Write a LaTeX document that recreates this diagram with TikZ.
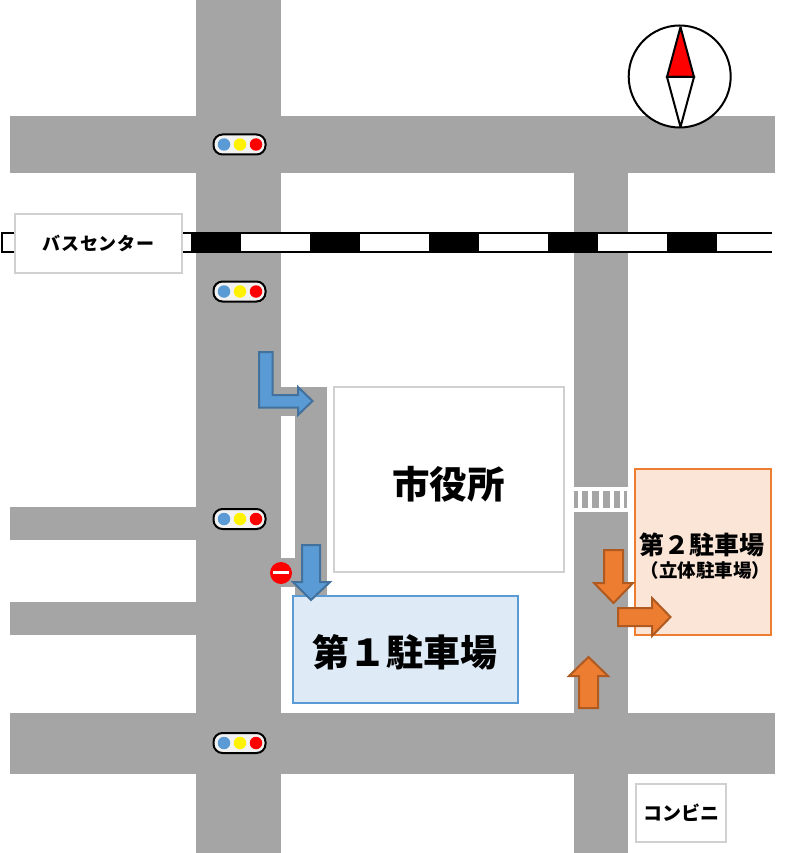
\documentclass[tikz,border=0pt]{standalone}
\usepackage{fontspec}
\setmainfont{Noto Sans CJK JP}
\tikzset{
  x=1pt,y=-1pt,
  road/.style={fill=roadgray,draw=none},
  plainbox/.style={draw=boxgray,line width=2pt,fill=white,minimum width=#1,inner sep=0pt},
  bluearrow/.style={fill=arrowblue,draw=arrowblueedge,line width=2pt,miter limit=10},
  orangearrow/.style={fill=arroworange,draw=arroworangeedge,line width=2pt,miter limit=10},
  signalbody/.style={rectangle,rounded corners=9pt,draw=black,line width=2pt,fill=signalbg,minimum width=52pt,minimum height=20pt,inner sep=0pt},
  lamp/.style={circle,minimum size=12.5pt,inner sep=0pt,fill=#1},
  label/.style={font=\bfseries,text=black,inner sep=0pt}
}
\definecolor{roadgray}{HTML}{A5A5A5}
\definecolor{boxgray}{HTML}{D0D0D0}
\definecolor{arrowblue}{HTML}{5B9BD5}
\definecolor{arrowblueedge}{HTML}{41719C}
\definecolor{arroworange}{HTML}{ED7D31}
\definecolor{arroworangeedge}{HTML}{AE5A21}
\definecolor{signalbg}{HTML}{F2F2F2}
\definecolor{pone}{HTML}{DEEBF7}
\definecolor{ptwo}{HTML}{FBE5D6}
\newcommand{\trafficlight}[2]{%
  \node[signalbody] (#1) at (239.5,#2) {};
  \node[lamp=arrowblue] (#1b) at (224,#2) {};
  \node[lamp=yellow] (#1y) at (240,#2) {};
  \node[lamp=red] (#1r) at (256,#2) {};
}
\begin{document}
\begin{tikzpicture}
\useasboundingbox (0,0) rectangle (787,853);
\fill[white] (0,0) rectangle (787,853);
% roads
\fill[road] (196,0) rectangle (281,853);
\fill[road] (10,116) rectangle (775,173);
\fill[road] (574,173) rectangle (628,853);
\fill[road] (10,713) rectangle (775,774);
\fill[road] (10,507) rectangle (196,540);
\fill[road] (10,602) rectangle (196,635);
\fill[road] (281,387) rectangle (327,416);
\fill[road] (295,416) rectangle (327,596);
\fill[road] (281,558) rectangle (295,587);
% crosswalk
\fill[white] (574,487) rectangle (628,512);
\fill[road] (574,491) rectangle (627,508);
\foreach \sx in {578,588,599,610,620}{\fill[white] (\sx,491) rectangle +(4,17);}
% rail
\fill[white] (2,233) rectangle (772,251.5);
\draw[black,line width=2pt] (772,233) -- (2,233) -- (2,251.5) -- (772,251.5);
\foreach \sx in {191,310,429,548,667}{\fill[black] (\sx,232) rectangle +(50,20.5);}
% boxes
\node[plainbox=167pt,minimum height=59pt,label] (bus) at (98.5,243.5) {\fontsize{18}{18}\selectfont\addfontfeature{LetterSpace=3.5}バスセンター};
\node[plainbox=230pt,minimum height=185pt,label] (hall) at (449,479.5) {};
\node[label] (hallt) at (448.5,484) {\fontsize{37.5}{37.5}\selectfont 市役所};
\node[draw=arrowblue,line width=1.5pt,fill=pone,minimum width=225pt,minimum height=107pt,inner sep=0pt,label] (pa) at (405.5,649.5) {};
\node[label] (pat) at (404.5,652) {\fontsize{37}{37}\selectfont 第１駐車場};
\node[draw=arroworange,line width=1.5pt,fill=ptwo,minimum width=136pt,minimum height=166pt,inner sep=0pt] (pb) at (703,552) {};
\node[label] (pbt) at (702,545) {\fontsize{25}{25}\selectfont 第２駐車場};
\node[label] (pbs) at (705.5,570) {\fontsize{18.5}{18.5}\selectfont （立体駐車場）};
\node[plainbox=90pt,minimum height=58pt,label] (kon) at (681,813) {\fontsize{19}{19}\selectfont コンビニ};
% signals
\trafficlight{sa}{144.5}
\trafficlight{sb}{291.5}
\trafficlight{sc}{519}
\trafficlight{sd}{743}
% blue arrows
\draw[bluearrow] (259,352) -- (272.5,352) -- (272.5,395) -- (298,395) -- (298,387) -- (312.5,401) -- (298,415) -- (298,407.5) -- (259,407.5) -- cycle;
\draw[bluearrow] (302,545) -- (320,545) -- (320,582) -- (330,582) -- (311,600) -- (293,582) -- (302,582) -- cycle;
% orange arrows
\draw[orangearrow] (604,550) -- (623,550) -- (623,583) -- (633,583) -- (613.5,603) -- (594,583) -- (604,583) -- cycle;
\draw[orangearrow] (618,608) -- (652,608) -- (652,598) -- (670.5,617) -- (652,636) -- (652,626) -- (618,626) -- cycle;
\draw[orangearrow] (579,708) -- (598,708) -- (598,676) -- (608,676) -- (588.5,657) -- (569,676) -- (579,676) -- cycle;
% no entry
\node[circle,fill=red,minimum size=22pt,inner sep=0pt] (noentry) at (281,573) {};
\node[fill=white,minimum width=16pt,minimum height=3.5pt,inner sep=0pt] (noentrybar) at (281,572.5) {};
% compass
\node[circle,draw=black,line width=2pt,fill=white,minimum size=102pt,inner sep=0pt] (compass) at (679.7,76.5) {};
\draw[black,line width=2pt,miter limit=2,fill=red] (680.5,27) -- (694,77) -- (667,77) -- cycle;
\draw[black,line width=2pt,miter limit=2,fill=white] (667,77) -- (694,77) -- (680.5,127) -- cycle;
\end{tikzpicture}
\end{document}
